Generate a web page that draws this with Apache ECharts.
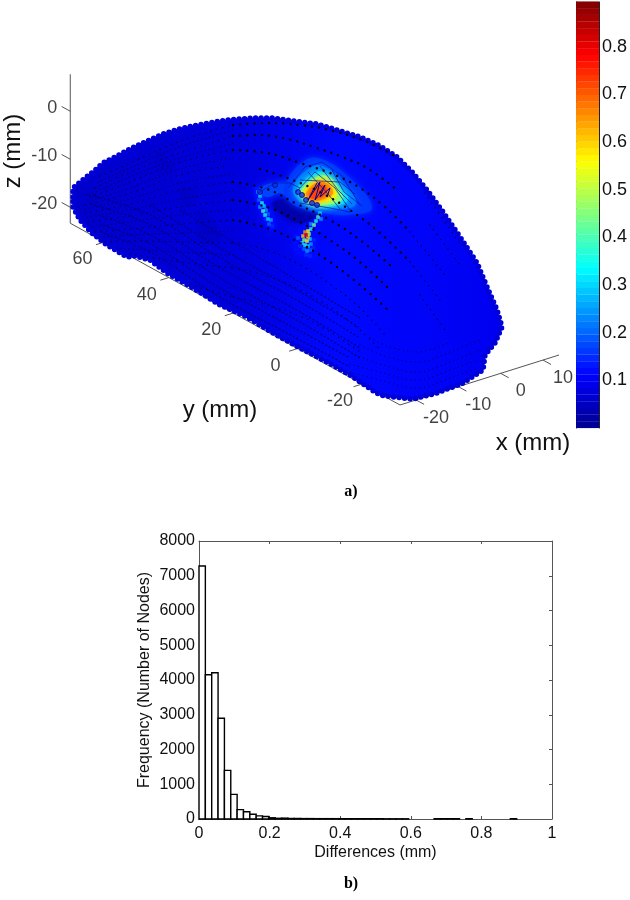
<!DOCTYPE html>
<html lang="en">
<head>
    <meta charset="UTF-8">
    <title>Surface differences</title>
    <script src="https://cdn.jsdelivr.net/npm/echarts@6/dist/echarts.min.js"></script>
    <style>
        html, body { margin: 0; background: #fff; }
    </style>
</head>
<body>
    <div id="main" style="width: 630px; height: 900px;"></div>
    <script>
        // panel b) histogram
        const binWidth = 0.018;
        const binCounts = [7280, 4150, 4210, 2900, 1400, 710, 270, 210, 135, 90, 70, 35, 20, 25, 15, 15, 12, 12, 10, 10,
            10, 10, 8, 8, 8, 8, 8, 8, 8, 6, 6, 6, 6, 0, 0, 0, 0, 8, 8, 8, 8, 0, 8, 0, 0, 0, 0, 0, 0, 8];

        // panel a) axes in mm
        const xTicks = [-20, -10, 0, 10];
        const yTicks = [60, 40, 20, 0, -20];
        const zTicks = [0, -10, -20];
        const xRange = [-23.8, 13.8];
        const yRange = [-31.8, 70.6];
        const zRange = [-23.33, 7.7];

        // panel a) surface as seen on the view plane [u, v]
        const surfaceOutline = [[-327, 3], [-327, 12], [-316, 21], [-307, 28], [-297, 37], [-285, 43], [-270, 51], [-255, 58],
            [-237, 66], [-217, 72], [-197, 76], [-173, 80], [-147, 82], [-127, 82], [-107, 79], [-83, 76], [-63, 70], [-40, 63],
            [-20, 54], [-3, 43], [13, 27], [27, 10], [43, -12], [60, -37], [77, -63], [87, -87], [97, -110], [102, -127],
            [95, -143], [85, -155], [83, -170], [63, -183], [37, -193], [13, -199], [-7, -197], [-20, -195], [-28, -190],
            [-50, -175], [-73, -162], [-100, -148], [-127, -133], [-153, -117], [-180, -105], [-207, -88], [-233, -73],
            [-250, -60], [-265, -56], [-273, -57], [-293, -45], [-308, -33], [-320, -20], [-327, -7], [-327, 3]];
        const nodeRows = [
            [[-300, 24], [-270, 37], [-220, 59], [-167, 75], [-133, 77], [-100, 75], [-67, 69], [-33, 58], [-5, 44], [25, 7], [60, -44]],
            [[-305, 12], [-270, 28], [-220, 47], [-167, 64], [-143, 65], [-113, 61], [-83, 52], [-60, 44], [-33, 32], [-3, 10], [30, -25], [60, -65]],
            [[-310, 3], [-270, 18], [-220, 38], [-167, 50], [-133, 47], [-100, 37], [-70, 27], [-43, 14], [-15, -7], [10, -32], [45, -75]],
            [[-315, -5], [-270, 7], [-220, 25], [-173, 34], [-140, 31], [-110, 21], [-80, 8], [-50, -10], [-20, -33], [10, -62], [40, -100]],
            [[-315, -13], [-270, -4], [-220, 10], [-167, 18], [-133, 11], [-105, -3], [-70, -20], [-40, -40], [-10, -65], [20, -95], [45, -130]],
            [[-312, -22], [-270, -16], [-220, -7], [-167, 0], [-133, -7], [-100, -22], [-70, -40], [-40, -62], [-10, -90], [15, -120]],
            [[-305, -32], [-270, -29], [-220, -24], [-167, -20], [-133, -28], [-100, -43], [-70, -62], [-40, -85], [-10, -112], [12, -140]],
            [[-295, -42], [-270, -41], [-220, -42], [-167, -43], [-133, -50], [-100, -65], [-70, -84], [-40, -108], [-15, -135]],
            [[-270, -54], [-220, -62], [-167, -68], [-133, -76], [-100, -90], [-70, -107], [-40, -130], [-20, -150]],
            [[-210, -85], [-167, -97], [-133, -105], [-100, -116], [-70, -132], [-40, -152]]
        ];
        const leftRows = [
            [[-302, 18], [-270, 32], [-220, 53], [-167, 70]],
            [[-307, 7], [-270, 23], [-220, 42], [-167, 57]],
            [[-312, -1], [-270, 12], [-220, 31], [-167, 42]],
            [[-315, -9], [-270, 1], [-220, 17], [-167, 26]],
            [[-313, -17], [-270, -10], [-220, 1], [-167, 9]],
            [[-308, -27], [-270, -22], [-220, -15], [-167, -10]],
            [[-300, -37], [-270, -35], [-220, -33], [-167, -31]],
            [[-283, -48], [-220, -52], [-167, -55]]
        ];
        const meshRows = [
            [[-300, -32], [-250, -52], [-180, -97], [-100, -140], [-50, -167]],
            [[-300, -24], [-250, -44], [-180, -88], [-100, -131], [-50, -158]],
            [[-305, -14], [-250, -35], [-180, -78], [-100, -122], [-40, -158]],
            [[-310, -4], [-250, -25], [-180, -68], [-100, -112], [-40, -148]],
            [[-315, 6], [-250, -15], [-180, -58], [-100, -102], [-40, -138]],
            [[-250, -5], [-180, -48], [-100, -92], [-40, -128]],
            [[-220, -10], [-170, -40], [-100, -82], [-40, -118]]
        ];
        const cornerRows = [
            [[-50, -172], [-17, -181], [17, -188], [50, -178], [78, -168]],
            [[-50, -164], [-17, -173], [17, -180], [50, -170], [78, -160]],
            [[-45, -155], [-17, -165], [17, -172], [50, -162], [80, -150]],
            [[-40, -145], [-15, -156], [17, -162], [50, -152], [80, -140]],
            [[-30, -138], [-10, -147], [17, -152], [50, -142]]
        ];

        // difference levels on the view plane: [mm, outline]
        const diffContours = [
            [0.06, [[-243, 50], [-227, 33], [-240, 28]]],
            [0.06, [[-200, -10], [-180, -37], [-197, -43]]],
            [0.06, [[-220, 13], [-203, 7], [-213, -7]]],
            [0.12, [[-147, 12], [-136, 8], [-124, -28], [-132, -30]]],
            [0.12, [[-76, -10], [-84, -8], [-104, -34], [-106, -50], [-84, -60], [-82, -40]]],
            [0.03, [[-127, -3], [-108, 0], [-83, -13], [-100, -23], [-120, -13]]],
            [0.17, [[-142, 10], [-127, 17], [-112, 17], [-107, 13], [-110, 3], [-120, 7], [-133, 3]]],
            [0.16, [[-115, 13], [-100, 36], [-82, 42], [-50, 22], [-28, -8], [-50, -15], [-70, -14], [-92, -10], [-110, -2]]],
            [0.22, [[-107, 12], [-93, 30], [-78, 34], [-58, 18], [-44, -4], [-68, -9], [-90, -7], [-102, 0]]],
            [0.3, [[-103, 10], [-90, 24], [-77, 28], [-60, 13], [-52, 0], [-72, -7], [-90, -5], [-99, 2]]],
            [0.45, [[-100, 8], [-87, 21], [-73, 24], [-60, 9], [-58, 0], [-76, -5], [-90, -3], [-97, 3]]],
            [0.55, [[-97, 8], [-84, 19], [-73, 20], [-64, 8], [-65, 2], [-81, -3], [-90, -1], [-95, 3]]],
            [0.65, [[-94, 7], [-82, 18], [-72, 16], [-67, 7], [-74, 2], [-88, -1], [-93, 3]]],
            [0.72, [[-91, 5], [-82, 15], [-74, 13], [-74, 6], [-86, 1]]]
        ];
        const spotNodes = [[-142, 8, 0.25], [-140, 4, 0.3], [-141, 0, 0.2], [-138, -3, 0.35], [-140, -7, 0.25], [-136, -6, 0.3],
            [-137, -11, 0.4], [-134, -10, 0.25], [-135, -15, 0.35], [-132, -14, 0.2], [-132, -19, 0.3], [-129, -20, 0.25],
            [-131, -24, 0.2], [-128, -26, 0.15], [-134, -19, 0.15], [-138, 2, 0.15], [-144, 1, 0.12], [-142, -6, 0.12],
            [-138, -15, 0.12], [-80, -13, 0.3], [-82, -17, 0.4], [-79, -19, 0.25], [-84, -21, 0.35], [-86, -25, 0.45],
            [-89, -24, 0.25], [-89, -29, 0.35], [-92, -31, 0.55], [-95, -32, 0.65], [-94, -35, 0.8], [-97, -36, 0.6],
            [-91, -34, 0.5], [-92, -37, 0.6], [-96, -40, 0.45], [-93, -41, 0.55], [-90, -39, 0.3], [-98, -43, 0.3],
            [-95, -45, 0.35], [-92, -46, 0.3], [-89, -44, 0.25], [-96, -49, 0.2], [-93, -51, 0.25], [-90, -50, 0.2],
            [-87, -48, 0.15], [-94, -55, 0.15], [-90, -56, 0.15], [-102, -38, 0.2], [-100, -46, 0.15], [-86, -40, 0.15],
            [-86, -53, 0.12]];
        const hotZigzag = [[-83, 17], [-92, 0], [-80, 18], [-85, 0], [-75, 15], [-80, 3], [-70, 12], [-73, 3]];
        const hotNet = [
            [[-112, 12], [-95, 33], [-78, 38], [-58, 24], [-40, -5]],
            [[-104, 8], [-85, 28], [-65, 12], [-50, -10]],
            [[-100, -3], [-70, -8], [-50, -12]],
            [[-142, 7], [-125, 17], [-110, 17], [-100, 12]],
            [[-92, 28], [-72, 6], [-60, -9]],
            [[-80, 34], [-62, 10], [-48, -4]],
            [[-68, 30], [-56, 8], [-38, -6]],
            [[-100, 20], [-60, 18], [-45, 6]]
        ];
        const hotRings = [[-102, 8], [-98, 5], [-94, 0], [-88, -3], [-83, -5], [-140, 8], [-125, 15]];

        // colour bar
        const colorbarMax = 0.894;
        const colorbarTicks = [0.1, 0.2, 0.3, 0.4, 0.5, 0.6, 0.7, 0.8];
        const colorbarLevels = [0.007, 0.021, 0.035, 0.049, 0.063, 0.077, 0.091, 0.105, 0.119, 0.133, 0.147, 0.161, 0.175, 0.189, 0.203, 0.217,
            0.231, 0.245, 0.259, 0.273, 0.287, 0.301, 0.315, 0.329, 0.343, 0.357, 0.371, 0.385, 0.399, 0.413, 0.426, 0.44,
            0.454, 0.468, 0.482, 0.496, 0.51, 0.524, 0.538, 0.552, 0.566, 0.58, 0.594, 0.608, 0.622, 0.636, 0.65, 0.664,
            0.678, 0.692, 0.706, 0.72, 0.734, 0.748, 0.762, 0.776, 0.79, 0.804, 0.818, 0.832, 0.846, 0.86, 0.874, 0.888];
        const jetColors = ['#00008f', '#0000ff', '#0080ff', '#00ffff', '#80ff80', '#ffff00', '#ff8000', '#ff0000', '#800000'];

        const sansFont = '"Liberation Sans", Arial, sans-serif';
        const textColor = '#111111';
        const axisColor = '#555555';

        // 3d axes onto the view plane
        function project(x, y, z) {
            const dx = x - xRange[0], dy = y - yRange[0], dz = z - zRange[0];
            return [4.23 * dx - 3.22 * dy, -205 + 1.33 * dx + 1.775 * dy + 4.8 * dz];
        }

        const axisLines = [
            [project(xRange[0], yRange[1], zRange[0]), project(xRange[0], yRange[1], zRange[1])],
            [project(xRange[0], yRange[1], zRange[0]), project(xRange[0], yRange[0], zRange[0])],
            [project(xRange[0], yRange[0], zRange[0]), project(xRange[1], yRange[0], zRange[0])]
        ];
        const xTickMarks = xTicks.map(t => [project(t, yRange[0], zRange[0]), project(t, yRange[0] - 2.5, zRange[0])]);
        const yTickMarks = yTicks.map(t => [project(xRange[0], t, zRange[0]), project(xRange[0] - 2, t, zRange[0])]);
        const zTickMarks = zTicks.map(t => [project(xRange[0], yRange[1], t), project(xRange[0], yRange[1] + 2.7, t)]);

        function segmentSeries(segments) {
            return {
                type: 'custom', coordinateSystem: 'cartesian2d', xAxisIndex: 0, yAxisIndex: 0, silent: true, clip: false,
                data: segments.map(s => [s[0][0], s[0][1], s[1][0], s[1][1]]),
                renderItem: (params, api) => {
                    const a = api.coord([api.value(0), api.value(1)]);
                    const b = api.coord([api.value(2), api.value(3)]);
                    return { type: 'line', shape: { x1: a[0], y1: a[1], x2: b[0], y2: b[1] }, style: { stroke: axisColor, lineWidth: 1 } };
                }
            };
        }

        function tickLabelSeries(ticks, positions, offset, align) {
            return {
                type: 'scatter', xAxisIndex: 0, yAxisIndex: 0, silent: true, symbolSize: 0,
                data: ticks.map((t, i) => ({ value: positions[i][0], name: String(t) })),
                label: {
                    show: true, position: 'inside', offset: offset, align: align, verticalAlign: 'middle',
                    formatter: p => p.name, fontFamily: sansFont, fontSize: 18, color: textColor
                }
            };
        }

        function rowSeries(rows, style, smooth) {
            return rows.map(row => ({
                type: 'line', xAxisIndex: 0, yAxisIndex: 0, silent: true, showSymbol: false, smooth: smooth,
                data: row, lineStyle: style
            }));
        }

        const surfaceFill = new echarts.graphic.LinearGradient(0, 0, 1, 0, [
            { offset: 0, color: '#0000cc' },
            { offset: 0.4, color: '#0000de' },
            { offset: 0.62, color: '#0008ff' },
            { offset: 1, color: '#0000f0' }
        ]);

        const series = [];
        series.push(segmentSeries(axisLines), segmentSeries(xTickMarks), segmentSeries(yTickMarks), segmentSeries(zTickMarks));
        series.push(tickLabelSeries(xTicks, xTickMarks, [20, 18], 'center'));
        series.push(tickLabelSeries(yTicks, yTickMarks, [-22, 17], 'center'));
        series.push(tickLabelSeries(zTicks, zTickMarks, [-13, -3], 'right'));
        // surface
        series.push({
            type: 'custom', coordinateSystem: 'cartesian2d', xAxisIndex: 0, yAxisIndex: 0, silent: true,
            data: [[0, 0]],
            renderItem: (params, api) => ({
                type: 'polygon',
                shape: { points: surfaceOutline.map(p => api.coord(p)) },
                style: { fill: surfaceFill }
            })
        });
        series.push({
            type: 'line', xAxisIndex: 0, yAxisIndex: 0, silent: true, showSymbol: false, data: surfaceOutline,
            lineStyle: { color: '#0000d8', width: 5.5, type: [0, 5.5], cap: 'round' }
        });
        series.push(...rowSeries(meshRows, { color: '#000078', width: 1.1, type: [2, 2] }, 0.4));
        series.push(...rowSeries(leftRows, { color: '#00004a', width: 1.2, type: [0, 4], cap: 'round' }, 0.4));
        const contourSeriesIndex = series.length;
        series.push({
            type: 'custom', coordinateSystem: 'cartesian2d', xAxisIndex: 0, yAxisIndex: 0, silent: true,
            data: diffContours.map((c, i) => [i, 0, c[0]]),
            renderItem: (params, api) => {
                const color = api.visual('color');
                return {
                    type: 'polygon',
                    shape: { points: diffContours[params.dataIndex][1].map(p => api.coord(p)), smooth: 0.4 },
                    style: { fill: color, shadowBlur: 6, shadowColor: color }
                };
            }
        });
        const spotSeriesIndex = series.length;
        series.push({
            type: 'scatter', xAxisIndex: 0, yAxisIndex: 0, silent: true, symbol: 'rect', symbolSize: 3.6,
            data: spotNodes.slice().sort((a, b) => a[2] - b[2])
        });
        series.push(...rowSeries(hotNet, { color: '#0010b4', width: 0.7 }, 0));
        series.push(...rowSeries([hotZigzag], { color: '#0000a0', width: 1 }, 0));
        series.push({
            type: 'scatter', xAxisIndex: 0, yAxisIndex: 0, silent: true, symbolSize: 5, data: hotRings,
            itemStyle: { color: '#1030e0', borderColor: '#000090', borderWidth: 1 }
        });
        series.push(...rowSeries(cornerRows, { color: '#00003a', width: 1, type: [0, 4.5], cap: 'round' }, 0.4));
        // nodes read as large dots only on the upper middle of the surface
        const smallDot = { color: '#000030', width: 1.4, type: [0, 6], cap: 'round' };
        const largeDot = { color: '#000018', width: 2.4, type: [0, 7.2], cap: 'round' };
        series.push(...rowSeries(nodeRows.map(r => r.filter(p => p[0] <= -167)), smallDot, 0.4));
        series.push(...rowSeries(nodeRows.map(r => r.filter(p => p[0] >= 10)), smallDot, 0.4));
        series.push(...rowSeries(nodeRows.slice(0, 7).map(r => r.filter(p => p[0] >= -167 && p[0] <= 10)), largeDot, 0.4));
        series.push(...rowSeries(nodeRows.slice(7).map(r => r.filter(p => p[0] >= -167 && p[0] <= 10)), smallDot, 0.4));
        // histogram
        series.push({
            type: 'custom', coordinateSystem: 'cartesian2d', xAxisIndex: 1, yAxisIndex: 1, silent: true,
            data: binCounts.map((n, i) => [i * binWidth, n]).filter(d => d[1] > 0),
            renderItem: (params, api) => {
                const a = api.coord([api.value(0), api.value(1)]);
                const b = api.coord([api.value(0) + binWidth, 0]);
                return {
                    type: 'rect', shape: { x: a[0], y: a[1], width: b[0] - a[0], height: b[1] - a[1] },
                    style: { fill: '#ffffff', stroke: '#000000', lineWidth: 1.4 }
                };
            }
        });
        // colour bar levels
        const colorbarSeriesIndex = series.length;
        series.push({
            type: 'custom', coordinateSystem: 'cartesian2d', xAxisIndex: 3, yAxisIndex: 3, silent: true,
            data: colorbarLevels.map(l => [0, l, l]),
            renderItem: (params, api) => {
                const a = api.coord([0, api.value(1) + 0.0072]);
                const b = api.coord([1, api.value(1) - 0.0072]);
                return {
                    type: 'rect', shape: { x: a[0], y: a[1], width: b[0] - a[0], height: b[1] - a[1] },
                    style: { fill: api.visual('color') }
                };
            }
        });

        const histTick = { show: true, inside: true, length: 3, lineStyle: { color: axisColor } };
        const histLine = { show: true, onZero: false, lineStyle: { color: axisColor, width: 1 } };
        const tickFont = { fontFamily: sansFont, fontSize: 16, color: textColor };

        const charts = echarts.init(document.getElementById('main'), null, { renderer: 'canvas' });
        charts.setOption({
            animation: false,
            backgroundColor: '#ffffff',
            grid: [
                { left: 0, top: 0, width: 630, height: 480 },
                { left: 199, top: 541, width: 353, height: 278 },
                { left: 576, top: 2, width: 25, height: 426 }
            ],
            xAxis: [
                { type: 'value', gridIndex: 0, min: -400, max: 230, show: false },
                {
                    type: 'value', gridIndex: 1, min: 0, max: 1, interval: 0.2, axisLine: histLine, axisTick: histTick, splitLine: { show: false },
                    axisLabel: { ...tickFont, margin: 7, formatter: v => String(v) },
                    name: 'Differences (mm)', nameLocation: 'middle', nameGap: 26, nameTextStyle: tickFont
                },
                {
                    type: 'value', gridIndex: 1, position: 'top', min: 0, max: 1, interval: 0.2, axisLine: histLine, axisTick: histTick,
                    splitLine: { show: false }, axisLabel: { show: false }
                },
                { type: 'value', gridIndex: 2, min: 0, max: 1, show: false }
            ],
            yAxis: [
                { type: 'value', gridIndex: 0, min: -280, max: 200, show: false },
                {
                    type: 'value', gridIndex: 1, min: 0, max: 8000, interval: 1000, axisLine: histLine, axisTick: histTick, splitLine: { show: false },
                    axisLabel: { ...tickFont, margin: 4, formatter: v => String(v) },
                    name: 'Frequency (Number of Nodes)', nameLocation: 'middle', nameGap: 46, nameMoveOverlap: false, nameTextStyle: tickFont
                },
                {
                    type: 'value', gridIndex: 1, position: 'right', min: 0, max: 8000, interval: 1000, axisLine: histLine, axisTick: histTick,
                    splitLine: { show: false }, axisLabel: { show: false }
                },
                {
                    type: 'value', gridIndex: 2, position: 'right', min: 0, max: colorbarMax, splitLine: { show: false },
                    axisLine: { show: true, onZero: false, lineStyle: { color: '#222222' } },
                    axisTick: { show: true, inside: true, length: 3, customValues: colorbarTicks, lineStyle: { color: '#222222' } },
                    axisLabel: { customValues: colorbarTicks, fontFamily: sansFont, fontSize: 18, color: textColor, margin: 3, formatter: v => v.toFixed(1) }
                },
                {
                    type: 'value', gridIndex: 2, position: 'left', min: 0, max: colorbarMax, splitLine: { show: false },
                    axisLine: { show: true, onZero: false, lineStyle: { color: '#222222' } },
                    axisTick: { show: true, inside: true, length: 3, customValues: colorbarTicks, lineStyle: { color: '#222222' } },
                    axisLabel: { show: false }
                }
            ],
            visualMap: {
                show: false, type: 'continuous', dimension: 2, min: 0, max: colorbarMax,
                seriesIndex: [contourSeriesIndex, spotSeriesIndex, colorbarSeriesIndex],
                inRange: { color: jetColors }
            },
            graphic: [
                { type: 'text', x: 533, y: 443, style: { text: 'x (mm)', font: '24px ' + sansFont, fill: textColor, align: 'center', verticalAlign: 'middle' } },
                { type: 'text', x: 220, y: 410, style: { text: 'y (mm)', font: '24px ' + sansFont, fill: textColor, align: 'center', verticalAlign: 'middle' } },
                { type: 'text', x: 13, y: 151, rotation: Math.PI / 2, style: { text: 'z (mm)', font: '24px ' + sansFont, fill: textColor, align: 'center', verticalAlign: 'middle' } },
                { type: 'text', x: 351, y: 492, style: { text: 'a)', font: 'bold 16px "Liberation Serif", serif', fill: '#000000', align: 'center', verticalAlign: 'middle' } },
                { type: 'text', x: 351, y: 884, style: { text: 'b)', font: 'bold 16px "Liberation Serif", serif', fill: '#000000', align: 'center', verticalAlign: 'middle' } }
            ],
            series: series
        });
    </script>
</body>
</html>
